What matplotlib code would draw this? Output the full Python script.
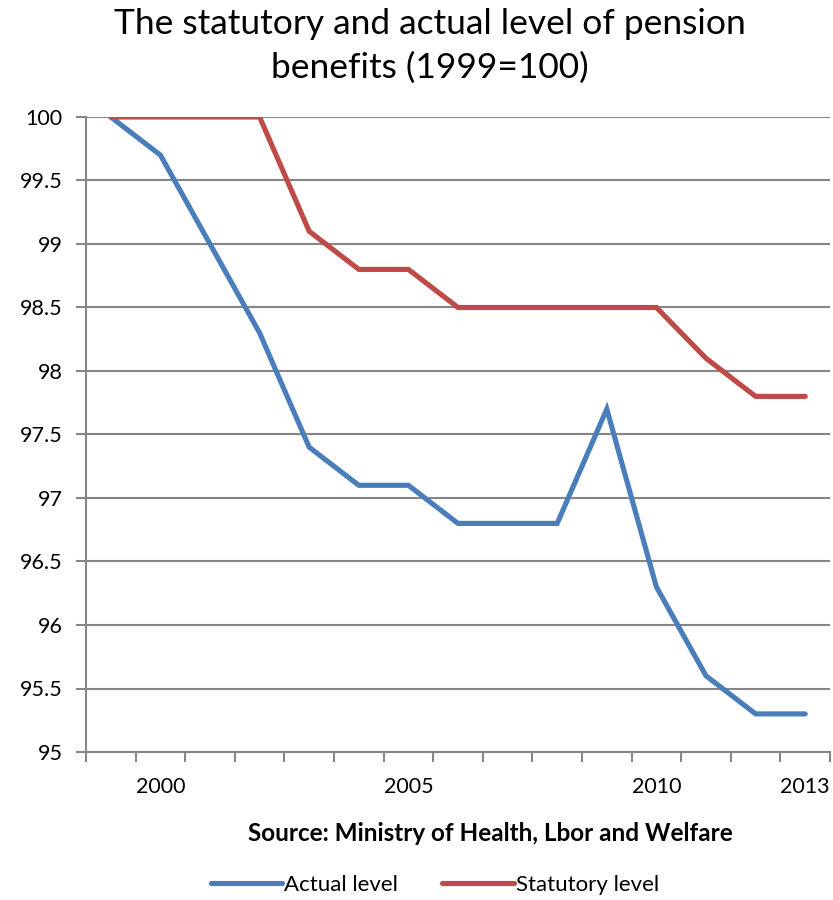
import matplotlib
matplotlib.use("Agg")
import matplotlib.pyplot as plt
from matplotlib.ticker import FixedLocator, NullFormatter, FixedFormatter
from matplotlib import font_manager

years = list(range(1999, 2014))
actual = [100, 99.7, 99.0, 98.3, 97.4, 97.1, 97.1, 96.8, 96.8, 96.8, 97.7, 96.3, 95.6, 95.3, 95.3]
statutory = [100, 100, 100, 100, 99.1, 98.8, 98.8, 98.5, 98.5, 98.5, 98.5, 98.5, 98.1, 97.8, 97.8]
labeled_years = [2000, 2005, 2010, 2013]
y_ticks = [95, 95.5, 96, 96.5, 97, 97.5, 98, 98.5, 99, 99.5, 100]

available = {f.name for f in font_manager.fontManager.ttflist}
family = "Liberation Sans Narrow" if "Liberation Sans Narrow" in available else "Lato"
plt.rcParams["font.family"] = [family, "DejaVu Sans"]

fig = plt.figure(figsize=(8.33, 9), dpi=100)
ax = fig.add_axes([86 / 833, 148 / 900, 744 / 833, 635 / 900])

x = list(range(len(years)))
ax.plot(x, actual, color="#4A7EBB", lw=3.7, solid_joinstyle="miter", solid_capstyle="round", label="Actual level", zorder=3)
ax.plot(x, statutory, color="#BE4B48", lw=3.7, solid_joinstyle="miter", solid_capstyle="round", label="Statutory level", zorder=3)

ax.set_xlim(-0.5, len(years) - 0.5)
ax.set_ylim(95, 100)

grid_c = "#868686"
ax.set_yticks(y_ticks)
ax.set_yticklabels([f"{v:g}" for v in y_ticks], fontsize=15.5)
ax.yaxis.grid(True, color=grid_c, lw=1.5)
ax.tick_params(axis="y", length=7, width=1.5, color=grid_c, pad=10)

# category boundaries as major ticks, year labels on minor ticks
ax.xaxis.set_major_locator(FixedLocator([i - 0.5 for i in range(len(years) + 1)]))
ax.xaxis.set_major_formatter(NullFormatter())
pos = [years.index(y) for y in labeled_years]
ax.xaxis.set_minor_locator(FixedLocator(pos))
ax.xaxis.set_minor_formatter(FixedFormatter([str(y) for y in labeled_years]))
ax.tick_params(axis="x", which="major", length=7, width=1.5, color=grid_c, direction="out")
ax.tick_params(axis="x", which="minor", length=0, labelsize=15.5, pad=18)

for s in ["top", "right"]:
    ax.spines[s].set_visible(False)
for s in ["left", "bottom"]:
    ax.spines[s].set_color(grid_c)
    ax.spines[s].set_linewidth(1.5)

fig.text(0.516, 0.991, "The statutory and actual level of pension\nbenefits (1999=100)",
         ha="center", va="top", fontsize=25.5, linespacing=1.45)
fig.text(0.589, 0.074, "Source: Ministry of Health, Lbor and Welfare",
         ha="center", va="center", fontsize=17.5, fontweight="bold")

fig.legend(loc="center", bbox_to_anchor=(0.522, 0.017), ncol=2, frameon=False,
           fontsize=16, handlelength=3.2, handletextpad=0.1, columnspacing=2.0)

fig.savefig("out.png", dpi=100)
